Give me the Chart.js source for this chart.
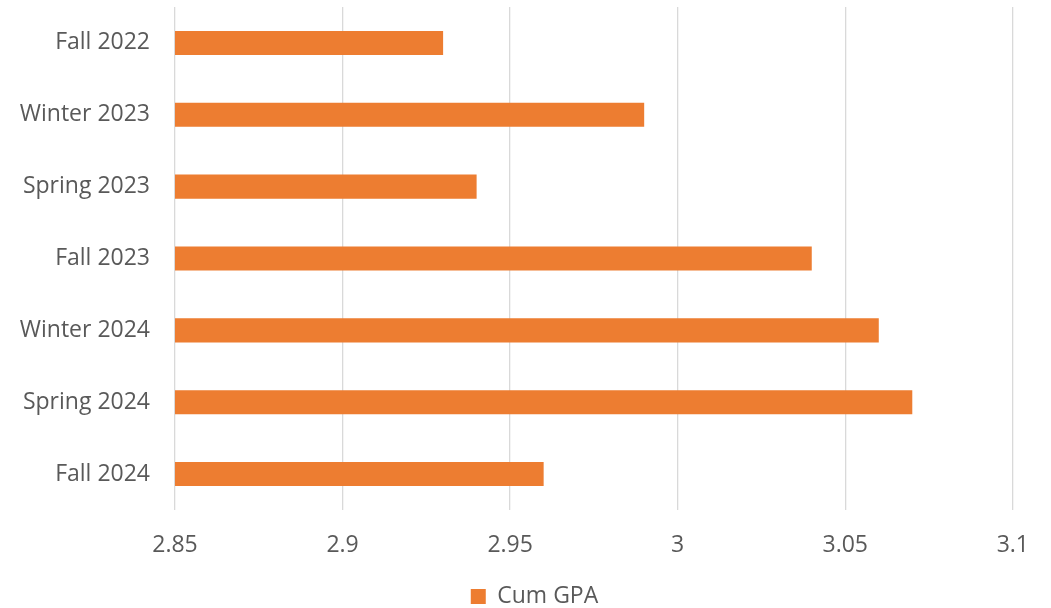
<!DOCTYPE html>
<html>
<head>
<meta charset="utf-8">
<script src="https://cdn.jsdelivr.net/npm/chart.js@4/dist/chart.umd.min.js"></script>
<style>
html,body{margin:0;padding:0;background:#fff;}
#wrap{width:1051px;height:608px;}
</style>
</head>
<body>
<div id="wrap"><canvas id="c" width="1051" height="608"></canvas></div>
<script>
const categories = ["Fall 2022","Winter 2023","Spring 2023","Fall 2023","Winter 2024","Spring 2024","Fall 2024"];
const cumGPA = [2.93, 2.99, 2.94, 3.04, 3.06, 3.07, 2.96];
const seriesName = "Cum GPA";
const xMin = 2.85, xMax = 3.1, xStep = 0.05;

const textColor = "#595959";
const fontFamily = "'Open Sans', 'Noto Sans', sans-serif";

const legendShift = {
  id: "legendShift",
  afterLayout(chart) {
    if (chart.legend) { chart.legend.left += 26; chart.legend.right += 26; }
  }
};

new Chart(document.getElementById("c"), {
  type: "bar",
  data: {
    labels: categories,
    datasets: [{
      label: seriesName,
      data: cumGPA,
      backgroundColor: "#ED7D31",
      borderWidth: 0,
      categoryPercentage: 1.0,
      barPercentage: 0.335
    }]
  },
  plugins: [legendShift],
  options: {
    indexAxis: "y",
    responsive: false,
    animation: false,
    layout: { padding: { top: 7, right: 34, left: 0, bottom: -10 } },
    scales: {
      x: {
        min: xMin, max: xMax,
        ticks: {
          stepSize: xStep,
          color: textColor,
          font: { family: fontFamily, size: 23 },
          padding: 22,
          maxRotation: 0,
          callback: v => String(Math.round(v*100)/100)
        },
        grid: { color: "#D9D9D9", lineWidth: 1.3, drawTicks: false },
        border: { display: false },
        afterFit: s => { s.height = 73; }
      },
      y: {
        ticks: {
          color: textColor,
          font: { family: fontFamily, size: 23 },
          padding: 25
        },
        grid: { display: false, drawTicks: false },
        border: { display: false },
        afterFit: s => { s.width = 175; s.paddingTop = 0; s.paddingBottom = 0; }
      }
    },
    plugins: {
      legend: {
        position: "bottom",
        labels: {
          color: textColor,
          font: { family: fontFamily, size: 23 },
          boxWidth: 15, boxHeight: 15,
          padding: 2
        }
      },
      tooltip: { enabled: false }
    }
  }
});
</script>
</body>
</html>
